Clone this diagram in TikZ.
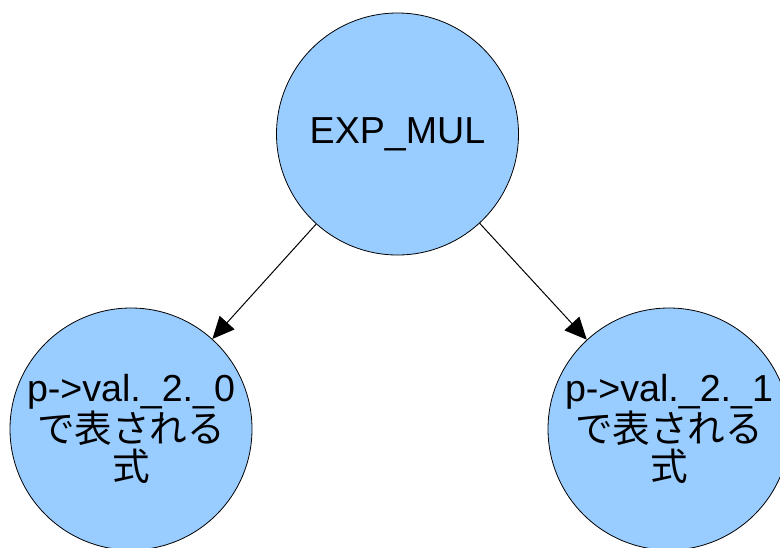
\documentclass[tikz,border=0pt]{standalone}
\usepackage{fontspec}
\setmainfont{Liberation Sans}
\newfontfamily\cjk{Noto Sans CJK JP}
\usetikzlibrary{arrows.meta}
\definecolor{nodeblue}{RGB}{153,204,255}
\tikzset{
  treenode/.style={circle, draw=black, line width=0.6pt, fill=nodeblue, minimum size=181.5pt, inner sep=0pt, align=center, font=\fontsize{28.2pt}{28.2pt}\selectfont},
  treeedge/.style={draw=black, line width=0.75pt, -{Triangle[length=16.5pt,width=15pt]}}
}
\begin{document}
\begin{tikzpicture}[x=0.75pt,y=0.75pt,yscale=-1,xscale=1]
\useasboundingbox (0,0) rectangle (780,547);

%Shape: Circle [root]
\draw (397.5,134) node [treenode] (mul) {EXP\_MUL};
%Shape: Circle [left operand]
\draw (131,429) node [treenode] (lhs) {p->val.\_2.\_0\\{\cjk で表される}\\{\cjk 式}};
%Shape: Circle [right operand]
\draw (669,429) node [treenode] (rhs) {p->val.\_2.\_1\\{\cjk で表される}\\{\cjk 式}};

%Straight Lines [root to left]
\draw [treeedge] (mul) -- (lhs) ;
%Straight Lines [root to right]
\draw [treeedge] (mul) -- (rhs) ;

\end{tikzpicture}
\end{document}
